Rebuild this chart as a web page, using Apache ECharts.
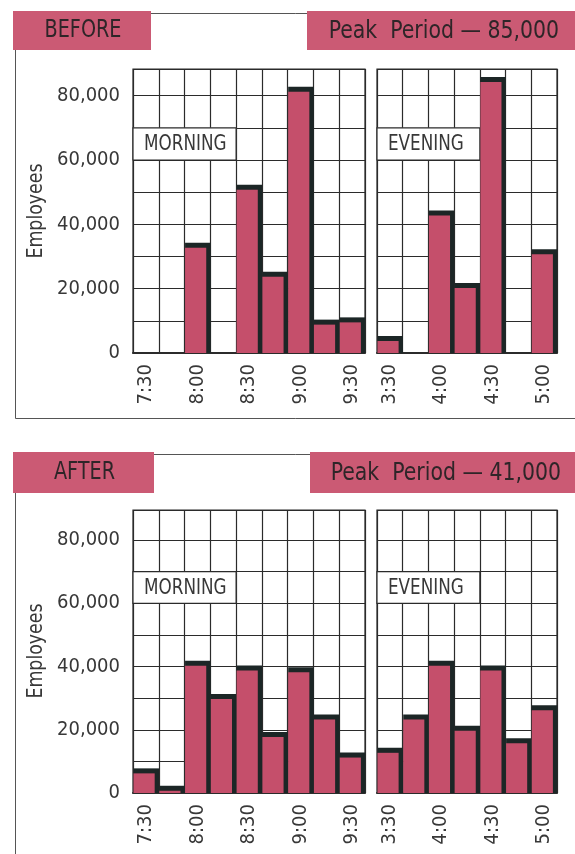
<!DOCTYPE html>
<html>
<head>
<meta charset="utf-8">
<script src="https://cdn.jsdelivr.net/npm/echarts@6/dist/echarts.min.js"></script>
<style>
  html, body { margin: 0; padding: 0; background: #ffffff; }
  #chart { width: 575px; height: 854px; }
</style>
</head>
<body>
<div id="chart"></div>
<script>
// Quarter-hour arrival / departure slots
const morningTimes = ['7:30', '7:45', '8:00', '8:15', '8:30', '8:45', '9:00', '9:15', '9:30'];
const eveningTimes = ['3:30', '3:45', '4:00', '4:15', '4:30', '4:45', '5:00'];

// Employees per slot, before staggered hours
const beforeMorning = [0, 0, 33500, 0, 51500, 24500, 82000, 9600, 10300];
const beforeEvening = [4500, 0, 43500, 21000, 85000, 0, 31500];

// Employees per slot, after staggered hours
const afterMorning = [7000, 1500, 41000, 30500, 39500, 18500, 39000, 24000, 12000];
const afterEvening = [13500, 24000, 41000, 20500, 39500, 16500, 27000];

const panelTitles = ['BEFORE', 'AFTER'];
const peakTitles = ['Peak  Period \u2014 85,000', 'Peak  Period \u2014 41,000'];
const periodNames = ['MORNING', 'EVENING'];
const axisTitle = 'Employees';

const FONT = '"Liberation Sans Narrow", "DejaVu Sans Condensed", "Liberation Sans", sans-serif';
const PINK = '#cb5a74';
const BAR = '#c54f6b';
const SHADOW = '#1c2626';
const GRID = '#2b2b2b';
const TEXT = '#383838';
const NARROW = 0.89; // horizontal squeeze for the condensed display lettering

const chart = echarts.init(document.getElementById('chart'), null, { renderer: 'canvas' });

// grid boxes: [morning-before, evening-before, morning-after, evening-after]
const gridBoxes = [
  { left: 133, top: 69, width: 232, height: 284, yMax: 88300 },
  { left: 377, top: 69, width: 180, height: 284, yMax: 88300 },
  { left: 133, top: 510, width: 232, height: 283, yMax: 89500 },
  { left: 377, top: 510, width: 180, height: 283, yMax: 89500 }
];
const panelCats = [morningTimes, eveningTimes, morningTimes, eveningTimes];
const panelData = [beforeMorning, beforeEvening, afterMorning, afterEvening];

function renderBar(params, api) {
  const idx = api.value(0);
  const val = api.value(1);
  if (!val) return null;
  const bandW = api.size([1, 0])[0];
  const top = api.coord([idx, val]);
  const base = api.coord([idx, 0]);
  const x0 = top[0] - bandW / 2;
  return {
    type: 'group',
    children: [
      { type: 'rect', shape: { x: x0 + 0.5, y: top[1] - 2.5, width: bandW - 0.3, height: base[1] - top[1] + 2.5 },
        style: { fill: SHADOW } },
      { type: 'rect', shape: { x: x0 + 0.5, y: top[1] + 2.5, width: bandW - 4.6, height: base[1] - top[1] - 2.5 },
        style: { fill: BAR } }
    ]
  };
}

function makeBoxRenderer(label) {
  return function (params, api) {
    const bandW = api.size([1, 0])[0];
    const a = api.coord([0, 70000]);
    const b = api.coord([3, 60000]);
    const x0 = a[0] - bandW / 2;
    const x1 = b[0] + bandW / 2;
    return {
      type: 'group',
      children: [
        { type: 'rect', shape: { x: x0, y: a[1], width: x1 - x0, height: b[1] - a[1] },
          style: { fill: '#ffffff', stroke: GRID, lineWidth: 1.2 } },
        { type: 'text', x: x0 + 11, y: (a[1] + b[1]) / 2 + 1, scaleX: NARROW,
          style: { text: label, x: 0, y: 0, verticalAlign: 'middle', font: '21px ' + FONT, fill: TEXT } }
      ]
    };
  };
}

const grids = [], xAxes = [], yAxes = [], series = [];
gridBoxes.forEach((g, i) => {
  grids.push({ left: g.left, top: g.top, width: g.width, height: g.height,
    show: true, borderColor: GRID, borderWidth: 1.2, backgroundColor: 'transparent', containLabel: false });
  xAxes.push({
    type: 'category', gridIndex: i, data: panelCats[i], boundaryGap: true,
    axisLine: { show: true, lineStyle: { color: GRID, width: 2 } },
    axisTick: { show: false, interval: 0 },
    splitLine: { show: true, interval: 0, lineStyle: { color: GRID, width: 1.2 } },
    axisLabel: { interval: 1, rotate: 90, margin: 11, fontSize: 20, fontFamily: FONT, color: TEXT }
  });
  yAxes.push({
    type: 'value', gridIndex: i, min: 0, max: g.yMax, interval: 10000,
    axisLine: { show: false }, axisTick: { show: false },
    splitLine: { show: true, lineStyle: { color: GRID, width: 1.2 } },
    axisLabel: {
      show: i % 2 === 0, margin: 13, fontSize: 20, fontFamily: FONT, color: TEXT, showMaxLabel: false,
      formatter: v => (v % 20000 === 0 && v <= 80000) ? v.toLocaleString('en-US') : ''
    }
  });
  series.push({
    type: 'custom', xAxisIndex: i, yAxisIndex: i, renderItem: renderBar, z: 3,
    encode: { x: 0, y: 1 },
    data: panelData[i].map((v, k) => [k, v])
  });
  series.push({
    type: 'custom', xAxisIndex: i, yAxisIndex: i, z: 2, silent: true,
    renderItem: makeBoxRenderer(periodNames[i % 2]),
    encode: { x: 0, y: 1 },
    data: [[0, 60000]]
  });
});

// panel frames and header boxes
const graphic = [];
const panels = [
  { top: 11, frameH: 405, leftBox: [13, 11, 138, 39], rightBox: [307, 11, 280, 39], textRight: 559, midY: 31 },
  { top: 452, frameH: 460, leftBox: [13, 452, 141, 41], rightBox: [310, 452, 280, 41], textRight: 561, midY: 473 }
];
panels.forEach((p, i) => {
  graphic.push({ type: 'rect', left: 13, top: p.top, shape: { width: 620, height: p.frameH },
    style: { fill: 'none', stroke: '#555', lineWidth: 1 }, z: 1 });
  graphic.push({ type: 'rect', shape: { x: p.leftBox[0], y: p.leftBox[1], width: p.leftBox[2], height: p.leftBox[3] },
    style: { fill: PINK }, z: 5 });
  graphic.push({ type: 'rect', shape: { x: p.rightBox[0], y: p.rightBox[1], width: p.rightBox[2], height: p.rightBox[3] },
    style: { fill: PINK }, z: 5 });
  graphic.push({ type: 'text', z: 6, x: p.leftBox[0] + p.leftBox[2] / 2 + 1, y: p.midY, scaleX: NARROW,
    style: { text: panelTitles[i], x: 0, y: 0, align: 'center', verticalAlign: 'middle', font: '24px ' + FONT, fill: '#2e2528' } });
  graphic.push({ type: 'text', z: 6, x: p.textRight, y: p.midY, scaleX: 0.91,
    style: { text: peakTitles[i], x: 0, y: 0, align: 'right', verticalAlign: 'middle', font: '25px ' + FONT, fill: '#2e2528' } });
});
// rotated axis titles
[211, 651].forEach(cy => {
  graphic.push({ type: 'text', z: 6, x: 37, y: cy, rotation: Math.PI / 2, scaleX: 0.92,
    style: { text: axisTitle, x: 0, y: 0, align: 'center', verticalAlign: 'middle', font: '21px ' + FONT, fill: TEXT } });
});

chart.setOption({
  animation: false,
  backgroundColor: '#ffffff',
  grid: grids,
  xAxis: xAxes,
  yAxis: yAxes,
  series: series,
  graphic: graphic
});
</script>
</body>
</html>
